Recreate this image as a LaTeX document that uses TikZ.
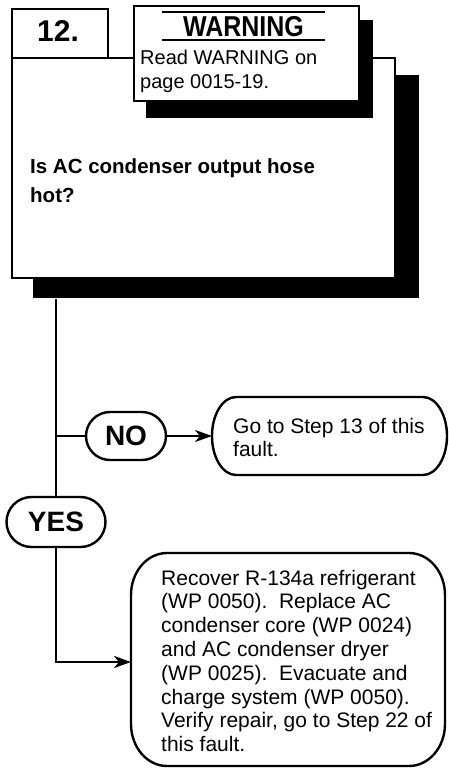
\documentclass[tikz,border=0pt]{standalone}
\usepackage{fontspec}
\usepackage{graphicx}
\setmainfont{Liberation Sans}
\usetikzlibrary{arrows.meta,shapes.misc}
\begin{document}
\begin{tikzpicture}[x=1pt,y=-1pt,line width=2.4pt,
  shadowbox/.style={fill=black,draw=none,inner sep=0pt,anchor=north west},
  plainbox/.style={draw=black,fill=white,inner sep=0pt,anchor=north west},
  oval/.style={draw=black,fill=white,rounded rectangle,inner sep=0pt,font=\fontsize{28}{28}\selectfont\bfseries},
  txt/.style={anchor=base west,inner sep=0pt},
  arr/.style={-{Stealth[length=17pt,width=12pt,inset=5pt]}}
]
\useasboundingbox (0,0) rectangle (448,771);
\fill[white] (0,0) rectangle (448,771);

% main box with shadow
\node[shadowbox,minimum width=386pt,minimum height=223pt] (mainshadow) at (32,74) {};
\node[plainbox,minimum width=383pt,minimum height=220pt] (main) at (11,57) {};
\node[plainbox,minimum width=96pt,minimum height=49pt] (numbox) at (11,8) {};
\node[anchor=base,inner sep=0pt,font=\fontsize{30}{32}\selectfont\bfseries] (num) at (58,41.5) {12.};

% warning box with shadow
\node[shadowbox,minimum width=227pt,minimum height=98pt] (warnshadow) at (145,19) {};
\node[plainbox,minimum width=225pt,minimum height=95pt] (warn) at (133,5) {};
\draw[line width=2pt] (162,12) -- (325,12);
\draw[line width=2pt] (162,40) -- (325,40);
\node[anchor=base,inner sep=0pt,font=\fontsize{25}{28}\selectfont\bfseries] (warntitle) at (243.5,36.5) {\scalebox{1}[1.15]{WARNING}};
\node[txt,font=\fontsize{20}{24}\selectfont] (warntext) at (139,64) {\vtop{\hbox{Read WARNING on}\hbox{page 0015-19.}}};

% question
\node[txt,font=\fontsize{20.5}{29}\selectfont\bfseries] (question) at (29,173) {\vtop{\hbox{Is AC condenser output hose}\hbox{hot?}}};

% NO / YES
\node[oval,minimum width=80pt,minimum height=48pt] (no) at (126,436) {NO};
\node[oval,minimum width=99pt,minimum height=50pt] (yes) at (56,522) {YES};

% Go to box
\draw[fill=white] (236,397) -- (423,397) .. controls (436.3,397) and (447,414.5) .. (447,436)
  .. controls (447,457.5) and (436.3,475) .. (423,475) -- (236,475)
  .. controls (222.7,475) and (212,457.5) .. (212,436)
  .. controls (212,414.5) and (222.7,397) .. (236,397) -- cycle;
\coordinate (gowest) at (212,436);
\node[txt,font=\fontsize{21}{23}\selectfont] (gotext) at (232,433) {\vtop{\hbox{Go to Step 13 of this}\hbox{fault.}}};

% big box
\draw[fill=white] (167,553) -- (409,553) .. controls (428.9,553) and (445,571.8) .. (445,595)
  -- (445,724) .. controls (445,747.2) and (428.9,766) .. (409,766) -- (167,766)
  .. controls (147.1,766) and (131,747.2) .. (131,724) -- (131,595)
  .. controls (131,571.8) and (147.1,553) .. (167,553) -- cycle;
\coordinate (bigwest) at (131,662);
\node[txt,font=\fontsize{21}{23.8}\selectfont] (bigtext) at (160,585) {\vtop{%
  \hbox{Recover R-134a refrigerant}%
  \hbox{(WP 0050).\ \ Replace AC}%
  \hbox{condenser core (WP 0024)}%
  \hbox{and AC condenser dryer}%
  \hbox{(WP 0025).\ \ Evacuate and}%
  \hbox{charge system (WP 0050).}%
  \hbox{Verify repair, go to Step 22 of}%
  \hbox{this fault.}}};

% connectors
\draw (yes.north |- mainshadow.south) -- (yes.north);
\draw (yes.north |- no.west) -- (no.west);
\draw[arr] (no.east) -- (gowest);
\draw[arr] (yes.south) |- (bigwest);
\end{tikzpicture}
\end{document}
